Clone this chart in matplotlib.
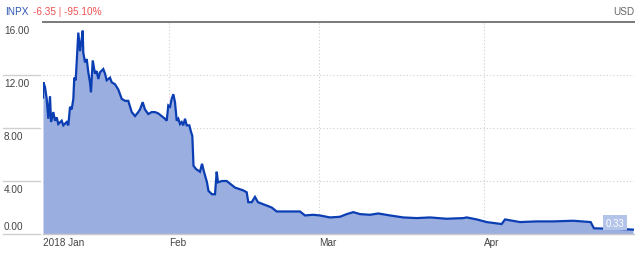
import matplotlib
matplotlib.use("Agg")
import matplotlib.pyplot as plt

plt.rcParams['font.family'] = ['Liberation Sans', 'DejaVu Sans']

# x = trading days since the start of the chart, y = price in USD
days = [0.0, 0.04, 0.25, 0.47, 0.67, 0.89, 1.02, 1.31, 1.52, 1.74, 1.94, 2.37, 2.58, 3.01, 3.21,
        3.43, 3.64, 3.85, 3.97, 4.15, 4.35, 4.48, 4.70, 4.91, 5.04, 5.11, 5.33, 5.55, 5.75, 5.96,
        6.09, 6.31, 6.60, 6.81, 7.02, 7.23, 7.65, 7.87, 8.08, 8.50, 8.72, 9.14, 9.56, 9.99, 10.41,
        10.82, 11.26, 11.68, 12.09, 12.31, 12.65, 12.94, 13.36, 13.79, 14.21, 14.63, 15.06, 15.48,
        15.70, 15.90, 16.12, 16.33, 16.54, 16.75, 16.97, 17.17, 17.39, 17.60, 17.80, 18.02, 18.24,
        18.57, 18.74, 18.95, 19.10, 19.42, 19.92, 20.18, 20.43, 20.81, 21.00, 21.45, 21.83, 22.04,
        22.21, 22.72, 23.31, 23.73, 24.37, 25.38, 25.85, 26.05, 26.49, 26.90, 27.28, 27.92, 29.02,
        29.66, 30.71, 32.61, 33.25, 34.26, 35.15, 36.42, 37.69, 38.54, 39.38, 40.23, 41.50, 42.55,
        44.04, 45.72, 47.42, 49.11, 51.23, 53.34, 53.77, 55.04, 56.31, 58.21, 58.63, 60.53, 62.65,
        64.76, 67.30, 69.50, 69.92, 73.22, 74.87]
prices = [10.3, 11.45, 11.1, 10.2, 8.7, 10.4, 8.45, 9.2, 8.55, 8.8, 8.3, 8.55, 8.2, 8.45, 8.2,
          9.6, 9.4, 10.2, 11.8, 11.6, 13.7, 15.2, 13.8, 14.7, 15.35, 13.7, 12.95, 13.2, 12.2, 11.45,
          10.7, 13.1, 12.1, 12.3, 11.7, 12.2, 12.45, 12.1, 11.6, 11.8, 11.45, 11.3, 10.9, 10.2, 10.05,
          10.05, 9.2, 8.9, 9.2, 9.4, 9.95, 9.4, 9.05, 9.2, 9.2, 9.1, 8.9, 8.7,
          8.55, 9.7, 9.6, 10.2, 10.55, 9.95, 8.55, 8.7, 8.3, 8.45, 8.2, 8.7, 8.2,
          8.2, 7.8, 7.4, 5.15, 4.9, 4.7, 5.3, 4.7, 3.9, 3.25, 3.0, 3.0, 4.7,
          3.9, 4.0, 4.0, 3.8, 3.5, 3.3, 3.15, 2.4, 2.4, 2.8, 2.4, 2.25, 2.0,
          1.7, 1.7, 1.7, 1.4, 1.45, 1.4, 1.25, 1.3, 1.5, 1.65, 1.5, 1.45, 1.55,
          1.4, 1.25, 1.2, 1.25, 1.15, 1.2, 1.25, 1.1, 0.9, 0.75, 1.1, 0.9, 0.95,
          0.95, 1.0, 0.9, 0.43, 0.38, 0.33]

month_pos = [0, 16, 35, 56]
month_labels = ["2018 Jan", "Feb", "Mar", "Apr"]
y_ticks = [0, 4, 8, 12, 16]
y_labels = ["0.00", "4.00", "8.00", "12.00", "16.00"]

fig = plt.figure(figsize=(6.4, 2.55), dpi=100)
ax = fig.add_axes([43/640, 1 - 235/255, 591/640, 212/255])

ax.fill_between(days, prices, 0, color='#9aafe0', lw=0)
ax.plot(days, prices, color='#0b3db3', lw=1.6, solid_joinstyle='miter')

ax.set_xlim(0, 75)
ax.set_ylim(0, 16)

for s in ['left', 'right']:
    ax.spines[s].set_visible(False)
ax.spines['top'].set_color('#7a7a7a')
ax.spines['top'].set_linewidth(1.4)
ax.spines['bottom'].set_color('#c8c8c8')
ax.spines['bottom'].set_linewidth(1.0)

for v in y_ticks[1:-1]:
    ax.axhline(v, color='#cfcfcf', lw=0.8, ls=(0, (1, 2)), zorder=0)
for m in month_pos[1:]:
    ax.axvline(m, color='#cfcfcf', lw=0.8, ls=(0, (1, 2)), zorder=0)

ax.set_yticks([])
ax.set_xticks(month_pos)
ax.set_xticklabels(month_labels, ha='left', fontsize=7.2, color='#444444')
ax.tick_params(axis='x', length=0, pad=2)

# y labels sit left of the plot, under a short gray rule
for v, lab in zip(y_ticks, y_labels):
    if v != y_ticks[-1]:
        ax.plot([-0.068, -0.005], [v, v], transform=ax.get_yaxis_transform(),
                color='#d0d0d0', lw=1.0, clip_on=False)
    off = 2 if v == 0 else -2
    ax.annotate(lab, xy=(-0.066, v), xycoords=ax.get_yaxis_transform(),
                xytext=(0, off), textcoords='offset points',
                ha='left', va='bottom' if v == 0 else 'top',
                fontsize=7.2, color='#444444')

ax.annotate(f"{prices[-1]:.2f}", xy=(days[-1], prices[-1]), xytext=(-13, 5),
            textcoords='offset points', ha='center', va='center',
            fontsize=7, color='white',
            bbox=dict(boxstyle='square,pad=0.25', fc='#b3c3ea', ec='none'))

fig.text(5/640, 1 - 12/255, "INPX", color='#2a55b0', fontsize=7.2, va='center', ha='left')
fig.text(33/640, 1 - 12/255, "-6.35 | -95.10%", color='#f05050', fontsize=7.2, va='center', ha='left')
fig.text(634/640, 1 - 12/255, "USD", color='#666666', fontsize=7.2, va='center', ha='right')

fig.savefig("out.png", dpi=100)
